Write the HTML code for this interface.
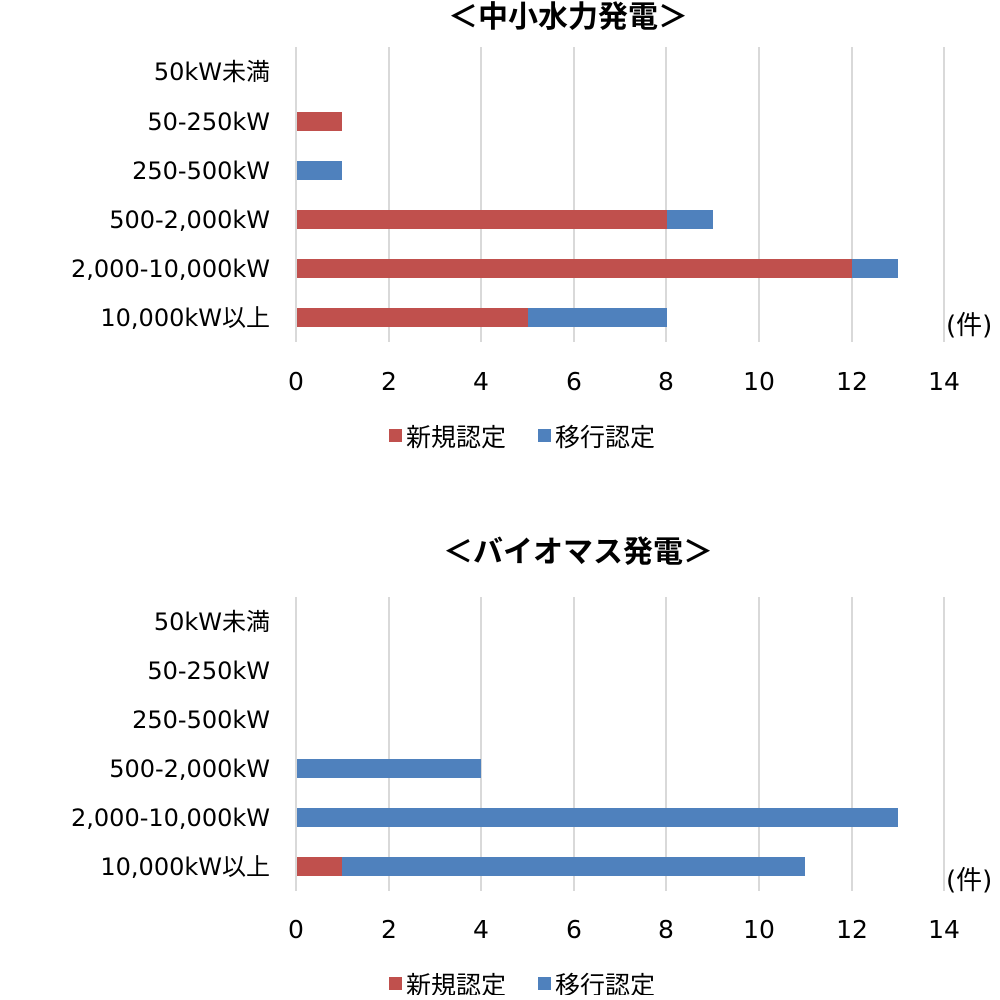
<!DOCTYPE html>
<html><head><meta charset="utf-8"><style>
body{margin:0;background:#fff}
svg text{font-family:"DejaVu Sans","Noto Sans CJK JP",sans-serif;fill:#000}
</style></head><body>
<svg width="1000" height="995" viewBox="0 0 1000 995" xmlns="http://www.w3.org/2000/svg">
<g id="c1">
<text x="568" y="27" font-size="30" font-weight="bold" text-anchor="middle" style="font-family:'Noto Sans CJK JP',sans-serif">＜中小水力発電＞</text>
<g stroke="#d9d9d9" stroke-width="2">
<line x1="296" y1="47" x2="296" y2="342"/><line x1="389" y1="47" x2="389" y2="342"/><line x1="481" y1="47" x2="481" y2="342"/><line x1="574" y1="47" x2="574" y2="342"/><line x1="666" y1="47" x2="666" y2="342"/><line x1="759" y1="47" x2="759" y2="342"/><line x1="852" y1="47" x2="852" y2="342"/><line x1="944" y1="47" x2="944" y2="342"/>
</g>
<g font-size="24" text-anchor="end">
<text x="270" y="80">50kW未満</text><text x="270" y="130">50-250kW</text><text x="270" y="179">250-500kW</text><text x="270" y="228">500-2,000kW</text><text x="270" y="277">2,000-10,000kW</text><text x="270" y="326">10,000kW以上</text>
</g>
<rect x="297" y="112" width="45" height="19" fill="#C0504D"/>
<rect x="297" y="161" width="45" height="19" fill="#4F81BD"/>
<rect x="297" y="210" width="370" height="19" fill="#C0504D"/><rect x="667" y="210" width="46" height="19" fill="#4F81BD"/>
<rect x="297" y="259" width="555" height="19" fill="#C0504D"/><rect x="852" y="259" width="46" height="19" fill="#4F81BD"/>
<rect x="297" y="308" width="231" height="19" fill="#C0504D"/><rect x="528" y="308" width="139" height="19" fill="#4F81BD"/>
<text x="946" y="334" font-size="26">(件)</text>
<g font-size="25" text-anchor="middle">
<text x="296" y="390">0</text><text x="389" y="390">2</text><text x="481" y="390">4</text><text x="574" y="390">6</text><text x="666" y="390">8</text><text x="759" y="390">10</text><text x="852" y="390">12</text><text x="944" y="390">14</text>
</g>
<rect x="389" y="429" width="13" height="13" fill="#C0504D"/><text x="406" y="446" font-size="25">新規認定</text>
<rect x="538" y="429" width="13" height="13" fill="#4F81BD"/><text x="555" y="446" font-size="25">移行認定</text>
</g>
<g transform="translate(0,550)">
<text x="578" y="12" font-size="30" font-weight="bold" text-anchor="middle" style="font-family:'Noto Sans CJK JP',sans-serif">＜バイオマス発電＞</text>
<g stroke="#d9d9d9" stroke-width="2">
<line x1="296" y1="47" x2="296" y2="341"/><line x1="389" y1="47" x2="389" y2="341"/><line x1="481" y1="47" x2="481" y2="341"/><line x1="574" y1="47" x2="574" y2="341"/><line x1="666" y1="47" x2="666" y2="341"/><line x1="759" y1="47" x2="759" y2="341"/><line x1="852" y1="47" x2="852" y2="341"/><line x1="944" y1="47" x2="944" y2="341"/>
</g>
<g font-size="24" text-anchor="end">
<text x="270" y="80">50kW未満</text><text x="270" y="129">50-250kW</text><text x="270" y="178">250-500kW</text><text x="270" y="227">500-2,000kW</text><text x="270" y="276">2,000-10,000kW</text><text x="270" y="325">10,000kW以上</text>
</g>
<rect x="297" y="209" width="184" height="19" fill="#4F81BD"/>
<rect x="297" y="258" width="601" height="19" fill="#4F81BD"/>
<rect x="297" y="307" width="45" height="19" fill="#C0504D"/><rect x="342" y="307" width="463" height="19" fill="#4F81BD"/>
<text x="946" y="339" font-size="26">(件)</text>
<g font-size="25" text-anchor="middle">
<text x="296" y="388">0</text><text x="389" y="388">2</text><text x="481" y="388">4</text><text x="574" y="388">6</text><text x="666" y="388">8</text><text x="759" y="388">10</text><text x="852" y="388">12</text><text x="944" y="388">14</text>
</g>
<rect x="389" y="427" width="13" height="13" fill="#C0504D"/><text x="406" y="444" font-size="25">新規認定</text>
<rect x="538" y="427" width="13" height="13" fill="#4F81BD"/><text x="555" y="444" font-size="25">移行認定</text>
</g>
</svg>
</body></html>
